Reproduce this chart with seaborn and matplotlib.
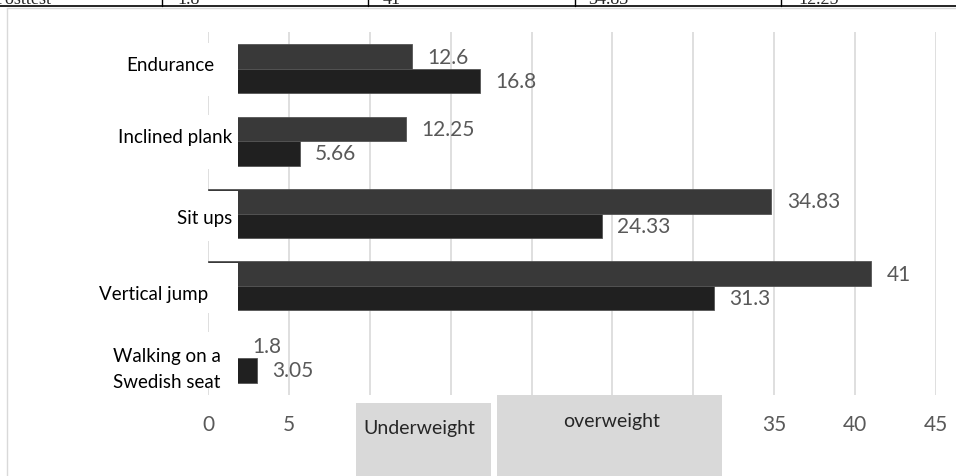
import matplotlib
matplotlib.use("Agg")
import matplotlib.pyplot as plt
from matplotlib.patches import Rectangle
from matplotlib.lines import Line2D
import seaborn as sns
import pandas as pd

# ---- data -------------------------------------------------------------
categories = ["Endurance", "Inclined plank", "Sit ups", "Vertical jump",
              "Walking on a\nSwedish seat"]
group_names = ["Group 1", "Group 2"]
values_top = [12.6, 12.25, 34.83, 41, 1.8]
values_bottom = [16.8, 5.66, 24.33, 31.3, 3.05]
x_ticks = [0, 5, 10, 15, 20, 25, 30, 35, 40, 45]
x_tick_labels = ["0", "5", "", "", "", "", "", "35", "40", "45"]  # 10-30 sit under the caption boxes
table_row_title = "Posttest"
table_row_order = [4, 3, 2, 1]          # Walking, Vertical jump, Sit ups, Inclined plank
box_labels = ["Underweight", "overweight"]

# ---- style --------------------------------------------------------------
sns.set_style("white")
plt.rcParams["font.family"] = ["Lato", "DejaVu Sans"]

W, H = 956, 477
fig = plt.figure(figsize=(W / 100, H / 100), dpi=100)


def fx(px):
    return px / W


def fy(py):
    return 1 - py / H


ax = fig.add_axes([fx(208), fy(396), fx(936) - fx(208), fy(33) - fy(396)])

df = pd.DataFrame({
    "Test": categories * 2,
    "Group": [group_names[0]] * len(categories) + [group_names[1]] * len(categories),
    "Value": values_top + values_bottom,
})

sns.barplot(data=df, y="Test", x="Value", hue="Group", orient="h",
            palette=["#393939", "#202020"], width=0.68, saturation=1,
            edgecolor="#555555", linewidth=0.6, legend=False, ax=ax)

# value labels at the bar ends
for cont, vals in zip(ax.containers, [values_top, values_bottom]):
    ax.bar_label(cont, labels=[f"{v:g}" for v in vals], padding=11,
                 color="#595959", fontsize=15)

ax.set_xlim(0, 45)
ax.set_ylim(len(categories) - 0.49, -0.51)
ax.set_xticks(x_ticks)
ax.set_xticklabels(x_tick_labels)
ax.set_yticks([])
ax.set_xlabel("")
ax.set_ylabel("")
ax.tick_params(axis="x", length=0, pad=14, labelcolor="#595959", labelsize=15)
ax.grid(axis="x", color="#d9d9d9", linewidth=1.2)
ax.grid(axis="y", visible=False)
ax.set_axisbelow(True)
for s in ax.spines.values():
    s.set_visible(False)

# white label panels over the bar roots, with the category names on top
panel_top = [-0.02, -0.02, 0.03, 0.03, -0.02]
label_pos = [(0.37, -0.055, "right"), (1.48, 0.94, "right"), (1.48, 2.06, "right"),
             (0.0, 3.10, "right"), (-2.53, 4.14, "center")]
for i, (name, dt, (lx, ly, ha)) in enumerate(zip(categories, panel_top, label_pos)):
    ax.add_patch(Rectangle((-0.15, i - 0.34 + dt), 2.0, 0.72 - dt,
                           facecolor="white", edgecolor="none", zorder=5,
                           clip_on=False))
    ax.text(lx, ly, name, ha=ha, va="center", multialignment="center",
            fontsize=13.5, color="black", zorder=6, clip_on=False,
            linespacing=1.65)

# chart frame
fig.add_artist(Line2D([fx(7), fx(7)], [fy(9), 0], color="#d9d9d9", lw=1.0))
fig.add_artist(Line2D([fx(7), 1], [fy(9), fy(9)], color="#d9d9d9", lw=1.0))

# table row above the chart
fig.add_artist(Line2D([0, 1], [fy(7), fy(7)], color="black", lw=1.2))
for px in [162, 368, 575, 781]:
    fig.add_artist(Line2D([fx(px), fx(px)], [1, fy(7)], color="black", lw=1.0))
serif = ["Liberation Serif", "DejaVu Serif"]
fig.text(fx(-4), fy(4.5), table_row_title, family=serif, fontsize=13,
         va="baseline", ha="left")
for px, idx in zip([177, 383, 588, 798], table_row_order):
    fig.text(fx(px), fy(4.5), f"{values_top[idx]:g}", family=serif,
             fontsize=13, va="baseline", ha="left")

# grey caption boxes below the axis
fig.add_artist(Rectangle((fx(356), 0), fx(491) - fx(356), fy(404),
                         facecolor="#d9d9d9", edgecolor="none", zorder=10,
                         transform=fig.transFigure))
fig.add_artist(Rectangle((fx(497), 0), fx(722) - fx(497), fy(396),
                         facecolor="#d9d9d9", edgecolor="none", zorder=10,
                         transform=fig.transFigure))
fig.text(fx(363), fy(434), box_labels[0], fontsize=14, color="#262626",
         va="baseline", ha="left", zorder=11)
fig.text(fx(612), fy(427), box_labels[1], fontsize=14, color="#262626",
         va="baseline", ha="center", zorder=11)

fig.savefig("out.png", dpi=100)
